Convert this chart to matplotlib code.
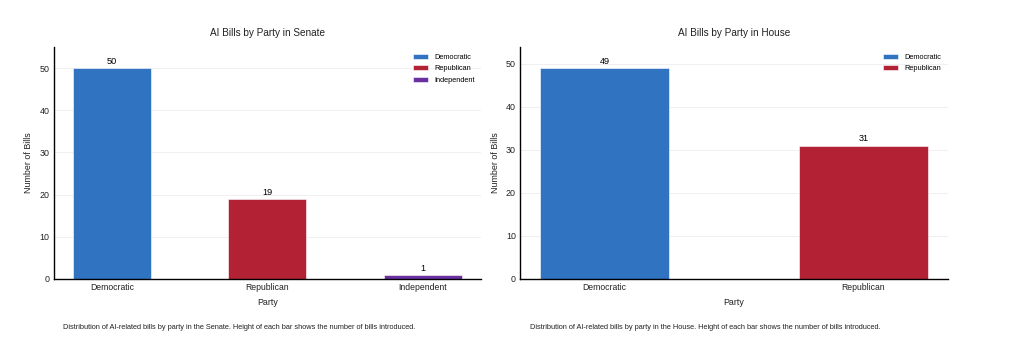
import matplotlib.pyplot as plt
import numpy as np

plt.rcParams['font.family'] = ['Liberation Sans', 'DejaVu Sans']

# Data
senate_parties = ['Democratic', 'Republican', 'Independent']
senate_bills = [50, 19, 1]
house_parties = ['Democratic', 'Republican']
house_bills = [49, 31]
party_colors = {'Democratic': '#2f73c1', 'Republican': '#b22234', 'Independent': '#6a2fa0'}

captions = [
    'Distribution of AI-related bills by party in the Senate. Height of each bar shows the number of bills introduced.',
    'Distribution of AI-related bills by party in the House. Height of each bar shows the number of bills introduced.',
]

fig = plt.figure(figsize=(10.3, 3.54), dpi=100)
ax1 = fig.add_axes([0.052, 0.212, 0.415, 0.655])
ax2 = fig.add_axes([0.505, 0.212, 0.415, 0.655])

panels = [(ax1, senate_parties, senate_bills, 'AI Bills by Party in Senate'),
          (ax2, house_parties, house_bills, 'AI Bills by Party in House')]

for (ax, parties, bills, title), cap in zip(panels, captions):
    x = np.arange(len(parties))
    for i, (p, v) in enumerate(zip(parties, bills)):
        ax.bar(x[i], v, width=0.5, color=party_colors[p], label=p,
               edgecolor='white', linewidth=0.4, zorder=2)
        ax.text(x[i], v + max(bills) * 0.01, str(v), ha='center', va='bottom',
                fontsize=6.6, color='black')
    ax.set_ylim(0, max(bills) * 1.1)
    ax.set_xticks(x)
    ax.set_xticklabels(parties, fontsize=6.2, color='#222222')
    ax.tick_params(axis='y', labelsize=6.4, labelcolor='#222222')
    ax.tick_params(length=0, pad=3)
    ax.set_title(title, fontsize=7.2, color='#222222', pad=8)
    ax.set_xlabel('Party', fontsize=6.4, color='#222222', labelpad=4.5)
    ax.set_ylabel('Number of Bills', fontsize=6.4, color='#222222', labelpad=4.5)
    ax.grid(axis='y', color='#eeeeee', linewidth=0.6, zorder=0)
    for s in ['top', 'right']:
        ax.spines[s].set_visible(False)
    for s in ['left', 'bottom']:
        ax.spines[s].set_color('black')
        ax.spines[s].set_linewidth(1.0)
    ax.legend(loc='upper right', frameon=False, fontsize=5.3,
              handlelength=2.0, handleheight=0.7, labelspacing=0.6,
              borderaxespad=0.5)
    ax.text(0.022, -0.21, cap, transform=ax.transAxes, fontsize=5.35,
            color='#222222', ha='left', va='center')

fig.savefig('out.png', dpi=100)
